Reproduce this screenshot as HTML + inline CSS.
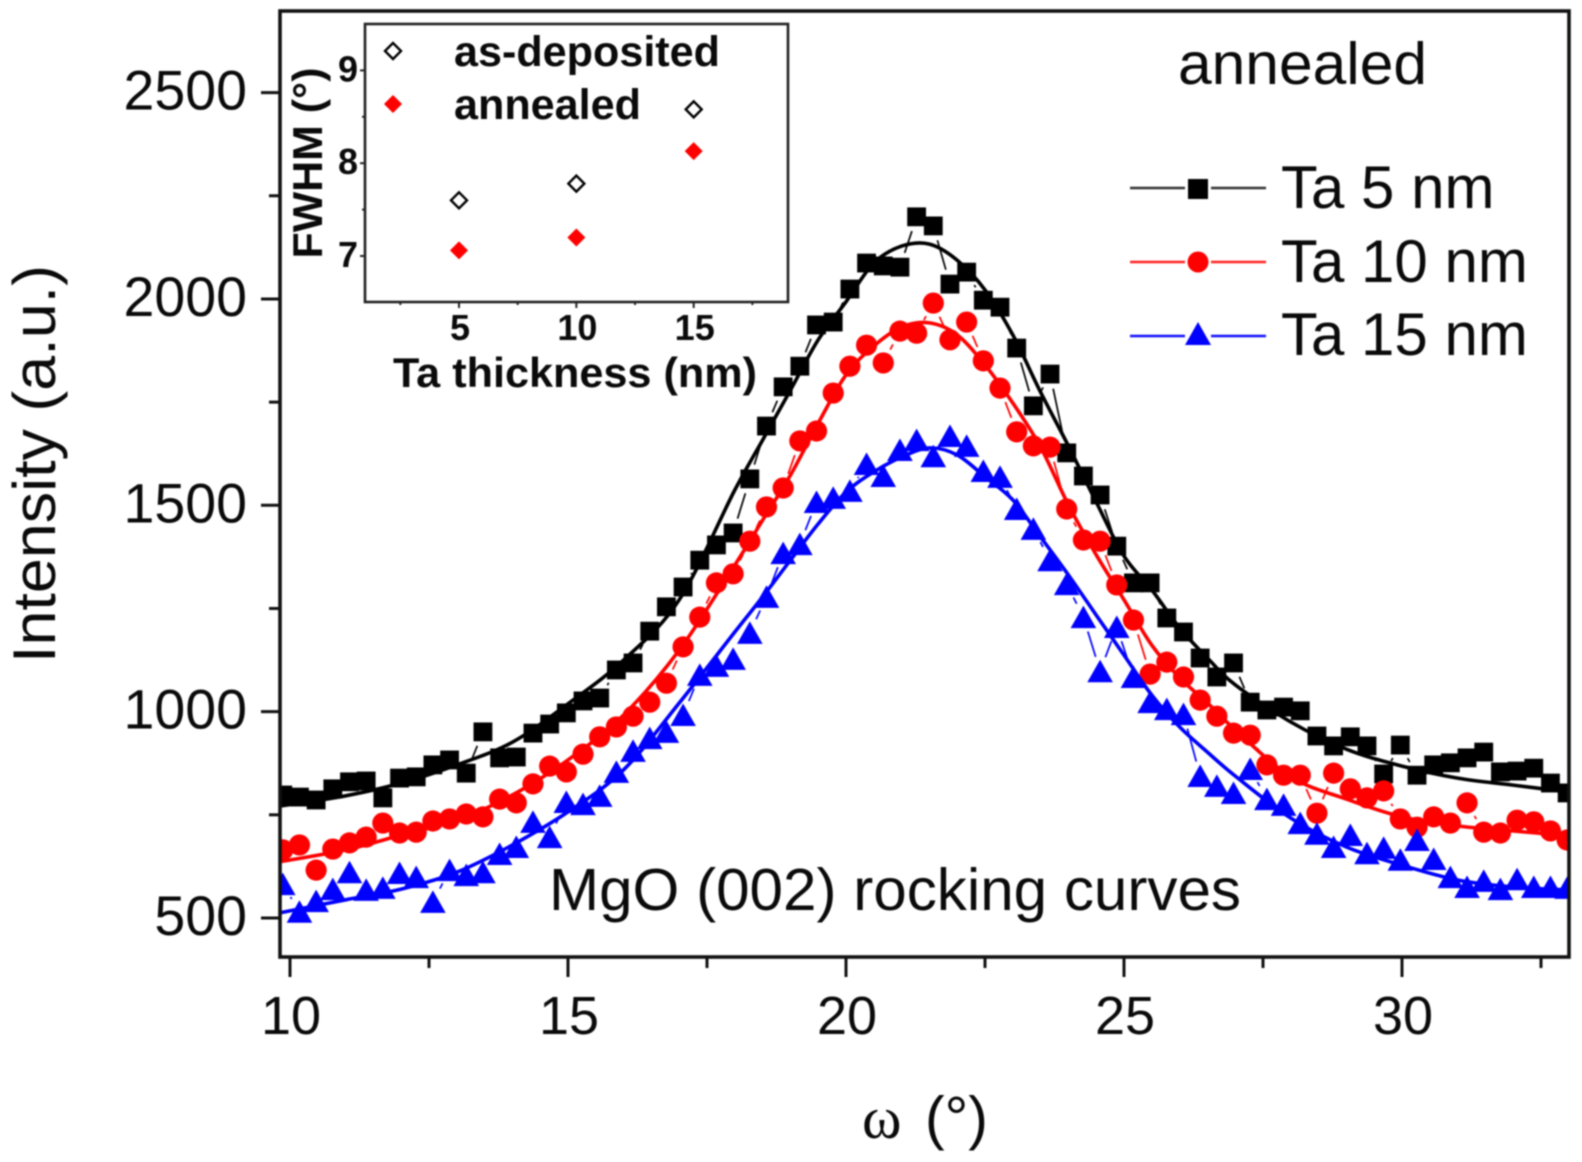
<!DOCTYPE html>
<html lang="en">
<head>
<meta charset="utf-8">
<title>MgO (002) rocking curves</title>
<style>
html,body{margin:0;padding:0;background:#fff;}
svg{display:block;filter:blur(0.8px);}
text{font-family:"Liberation Sans",sans-serif;fill:#0a0a0a;}
.b{font-weight:bold;}
</style>
</head>
<body>
<svg id="chart" xmlns="http://www.w3.org/2000/svg" width="1582" height="1162" viewBox="0 0 1582 1162">
  <defs><clipPath id="plotClip"><rect x="280" y="11" width="1289" height="946"></rect></clipPath></defs>
  <g id="main-marks" clip-path="url(#plotClip)"></g>
  <rect x="280" y="11" width="1289" height="946" fill="none" stroke="#111" stroke-width="3.6"></rect>
  <g id="main-axes"></g>
  <text x="55" y="464" font-size="60" text-anchor="middle" textLength="398" lengthAdjust="spacingAndGlyphs" transform="rotate(-90 55 464)">Intensity (a.u.)</text>
  <text x="862" y="1138" font-size="60" style="font-family:'Liberation Serif',serif">ω</text>
  <text x="925" y="1138" font-size="59">(°)</text>
  <text x="1178" y="84" font-size="59" textLength="249" lengthAdjust="spacingAndGlyphs">annealed</text>
  <text x="549" y="910" font-size="59" textLength="692" lengthAdjust="spacingAndGlyphs">MgO (002) rocking curves</text>

  <g>
    <line x1="1130" y1="188" x2="1185" y2="188" stroke="#333" stroke-width="2.5"></line>
    <line x1="1211" y1="188" x2="1266" y2="188" stroke="#333" stroke-width="2.5"></line>
    <rect x="1188" y="179" width="20" height="20" fill="#000"></rect>
    <text x="1281" y="208" font-size="60">Ta 5 nm</text>
    <line x1="1130" y1="262" x2="1185" y2="262" stroke="#f22" stroke-width="2.5"></line>
    <line x1="1211" y1="262" x2="1266" y2="262" stroke="#f22" stroke-width="2.5"></line>
    <circle cx="1198" cy="262" r="10.5" fill="#f00"></circle>
    <text x="1281" y="282" font-size="60">Ta 10 nm</text>
    <line x1="1130" y1="336" x2="1185" y2="336" stroke="#11f" stroke-width="2.5"></line>
    <line x1="1211" y1="336" x2="1266" y2="336" stroke="#11f" stroke-width="2.5"></line>
    <polygon points="1198,322 1211,345 1185,345" fill="#00f"></polygon>
    <text x="1281" y="355" font-size="60">Ta 15 nm</text>
  </g>

  <g>
    <rect x="365" y="24" width="423" height="278" fill="#fff" stroke="#222" stroke-width="2.6"></rect>
    <g id="inset-axes"></g>
    <g id="inset-marks"></g>
    <polygon points="393,43 401,51 393,59 385,51" fill="#fff" stroke="#000" stroke-width="2.4"></polygon>
    <polygon points="393,95 402,104 393,113 384,104" fill="#f00"></polygon>
    <text x="454" y="66" class="b" font-size="42.5" textLength="266" lengthAdjust="spacingAndGlyphs">as-deposited</text>
    <text x="454" y="119" class="b" font-size="42.5" textLength="187" lengthAdjust="spacingAndGlyphs">annealed</text>
    <text x="393" y="387" class="b" font-size="42" textLength="364" lengthAdjust="spacingAndGlyphs">Ta thickness (nm)</text>
    <text x="322" y="163" class="b" font-size="42" text-anchor="middle" textLength="191" lengthAdjust="spacingAndGlyphs" transform="rotate(-90 322 163)">FWHM (°)</text>
  </g>
</svg>
<script>
// Measured rocking-curve data
const omega = [9.87,10.17,10.47,10.77,11.07,11.37,11.67,11.97,12.27,12.57,12.87,13.17,13.47,13.77,14.07,14.37,14.67,14.97,15.27,15.57,15.87,16.17,16.47,16.77,17.07,17.37,17.67,17.97,18.27,18.57,18.87,19.17,19.47,19.77,20.07,20.37,20.67,20.97,21.27,21.57,21.87,22.17,22.47,22.77,23.07,23.37,23.67,23.97,24.27,24.57,24.87,25.17,25.47,25.77,26.07,26.37,26.67,26.97,27.27,27.57,27.87,28.17,28.47,28.77,29.07,29.37,29.67,29.97,30.27,30.57,30.87,31.17,31.47,31.77,32.07,32.37,32.67,32.97];
const ta5 = [798,793,786,813,830,832,791,839,842,871,883,851,951,888,890,948,970,997,1026,1033,1101,1118,1195,1254,1302,1367,1404,1433,1564,1692,1787,1837,1937,1944,2024,2087,2080,2077,2199,2177,2036,2065,1997,1980,1881,1741,1818,1627,1571,1525,1401,1312,1312,1227,1193,1130,1084,1118,1023,1004,1011,1002,941,917,939,917,849,919,846,871,876,888,902,854,856,863,827,803];
const ta10 = [665,677,616,667,682,696,730,706,708,735,740,752,745,788,779,825,868,854,897,939,963,989,1023,1069,1157,1229,1312,1334,1413,1496,1542,1656,1680,1772,1837,1888,1845,1922,1917,1990,1901,1944,1850,1784,1678,1644,1641,1491,1416,1413,1307,1222,1091,1120,1084,1028,989,948,943,871,846,846,754,851,813,791,808,740,720,745,730,779,708,706,737,733,711,689];
const ta15 = [582,515,541,570,611,568,573,609,599,539,616,604,611,655,672,733,696,781,776,796,854,905,936,951,992,1089,1111,1128,1191,1278,1384,1406,1508,1518,1535,1600,1571,1634,1658,1619,1668,1644,1583,1569,1491,1443,1367,1309,1229,1098,1205,1084,1023,1006,994,844,820,803,861,788,774,730,704,672,701,657,670,641,689,643,599,575,590,570,594,575,575,573];

// Fitted peak curves
const fitOmega = [9.8,11,12,13,14,15,16,17,18,18.5,19,19.5,20,20.5,21,21.5,22,22.5,23,23.5,24,24.5,25,25.5,26,26.5,27,28,29,30,31,32,33];
const fitTa5 = [771,796,827,871,926,1019,1125,1271,1537,1658,1779,1901,1993,2087,2128,2133,2094,2022,1913,1774,1644,1508,1377,1295,1203,1130,1065,975,909,868,839,822,805];
const fitTa10 = [636,665,701,737,798,883,992,1149,1355,1464,1573,1699,1816,1886,1932,1942,1913,1840,1748,1641,1501,1380,1271,1161,1082,1021,956,842,788,745,723,711,699];
const fitTa15 = [512,544,570,611,677,757,859,1021,1193,1278,1367,1455,1532,1581,1617,1639,1622,1569,1513,1423,1331,1234,1137,1040,963,902,844,742,672,628,592,575,568];

// Main axis ticks
const xMajorTicks = [10,15,20,25,30];
const xMinorTicks = [12.5,17.5,22.5,27.5,32.5];
const yMajorTicks = [500,1000,1500,2000,2500];
const yMinorTicks = [750,1250,1750,2250];

// Inset data
const insetThickness = [5,10,15];
const fwhmAsDeposited = [7.60,7.78,8.58];
const fwhmAnnealed = [7.06,7.20,8.13];
const insetXMajor = [5,10,15];
const insetXMinor = [2.5,7.5,12.5,17.5];
const insetYMajor = [7,8,9];
const insetYMinor = [7.5,8.5];

const NS = 'http://www.w3.org/2000/svg';
const xScale = v => 290 + 55.6 * (v - 10);
const yScale = v => 918 - 0.4127 * (v - 500);
const insetX = v => 459 + 23.47 * (v - 5);
const insetY = v => 256 - 92.8 * (v - 7);

function mk(parent, tag, attrs, txt) {
  const el = document.createElementNS(NS, tag);
  for (const k in attrs) el.setAttribute(k, attrs[k]);
  if (txt !== undefined) el.textContent = txt;
  parent.appendChild(el);
  return el;
}
function smoothPath(xs, ys) {
  const p = xs.map((x, i) => [xScale(x), yScale(ys[i])]);
  let d = 'M' + p[0][0].toFixed(1) + ' ' + p[0][1].toFixed(1);
  for (let i = 0; i < p.length - 1; i++) {
    const a = p[Math.max(i - 1, 0)], b = p[i], c = p[i + 1], e = p[Math.min(i + 2, p.length - 1)];
    d += 'C' + (b[0] + (c[0] - a[0]) / 6).toFixed(1) + ' ' + (b[1] + (c[1] - a[1]) / 6).toFixed(1) + ' ' +
         (c[0] - (e[0] - b[0]) / 6).toFixed(1) + ' ' + (c[1] - (e[1] - b[1]) / 6).toFixed(1) + ' ' +
         c[0].toFixed(1) + ' ' + c[1].toFixed(1);
  }
  return d;
}

const marks = document.getElementById('main-marks');
const axes = document.getElementById('main-axes');

function drawSeries(key, values, fit, color, shape) {
  const group = mk(marks, 'g', {});
  
  
  for (let i = 0; i < values.length - 1; i++) {
    const x1 = xScale(omega[i]), y1 = yScale(values[i]), x2 = xScale(omega[i + 1]), y2 = yScale(values[i + 1]);
    const len = Math.hypot(x2 - x1, y2 - y1);
    const gap = 15;
    if (len <= gap * 2 + 1) continue;
    const ux = (x2 - x1) / len, uy = (y2 - y1) / len;
    const seg = mk(group, 'line', {x1: x1 + ux * gap, y1: y1 + uy * gap, x2: x2 - ux * gap, y2: y2 - uy * gap, stroke: color, 'stroke-width': 1.7});
    
    
  }
  const curve = mk(group, 'path', {d: smoothPath(fitOmega, fit), fill: 'none', stroke: color, 'stroke-width': 3.6});
  
  
  values.forEach((v, i) => {
    const cx = xScale(omega[i]), cy = yScale(v);
    let m;
    if (shape === 'square') {
      m = mk(group, 'rect', {x: cx - 9.4, y: cy - 9.4, width: 18.8, height: 18.8, fill: color});
    } else if (shape === 'circle') {
      m = mk(group, 'circle', {cx: cx, cy: cy, r: 10.6, fill: color});
    } else {
      m = mk(group, 'polygon', {points: cx + ',' + (cy - 11.5) + ' ' + (cx + 12.8) + ',' + (cy + 11) + ' ' + (cx - 12.8) + ',' + (cy + 11), fill: color});
    }
    
    
  });
}
drawSeries('ta-5-nm', ta5, fitTa5, '#000', 'square');
drawSeries('ta-10-nm', ta10, fitTa10, '#f00', 'circle');
drawSeries('ta-15-nm', ta15, fitTa15, '#00f', 'triangle');

xMajorTicks.forEach(t => {
  const l = mk(axes, 'line', {x1: xScale(t), x2: xScale(t), y1: 957, y2: 977, stroke: '#111', 'stroke-width': 3});
  
  
  const s = mk(axes, 'text', {x: xScale(t) + 1, y: 1034, 'font-size': 54, 'text-anchor': 'middle'}, String(t));
  
  
});
xMinorTicks.forEach(t => {
  const l = mk(axes, 'line', {x1: xScale(t), x2: xScale(t), y1: 957, y2: 968, stroke: '#111', 'stroke-width': 3});
  
  
});
yMajorTicks.forEach(t => {
  const l = mk(axes, 'line', {x1: 261, x2: 280, y1: yScale(t), y2: yScale(t), stroke: '#111', 'stroke-width': 3});
  
  
  const s = mk(axes, 'text', {x: 247, y: yScale(t) + 17, 'font-size': 55.5, 'text-anchor': 'end'}, String(t));
  
  
});
yMinorTicks.forEach(t => {
  const l = mk(axes, 'line', {x1: 269, x2: 280, y1: yScale(t), y2: yScale(t), stroke: '#111', 'stroke-width': 3});
  
  
});

// Inset
const iAxes = document.getElementById('inset-axes');
const iMarks = document.getElementById('inset-marks');
insetXMajor.forEach(t => {
  const l = mk(iAxes, 'line', {x1: insetX(t), x2: insetX(t), y1: 302, y2: 308, stroke: '#222', 'stroke-width': 2});
  
  
  const s = mk(iAxes, 'text', {x: insetX(t) + 1, y: 340, 'font-size': 36, 'text-anchor': 'middle', class: 'b'}, String(t));
  
  
});
insetXMinor.forEach(t => {
  const l = mk(iAxes, 'line', {x1: insetX(t), x2: insetX(t), y1: 302, y2: 305, stroke: '#222', 'stroke-width': 2});
  
  
});
insetYMajor.forEach(t => {
  const l = mk(iAxes, 'line', {x1: 360, x2: 365, y1: insetY(t), y2: insetY(t), stroke: '#222', 'stroke-width': 2});
  
  
  const s = mk(iAxes, 'text', {x: 358, y: insetY(t) + 11, 'font-size': 36, 'text-anchor': 'end', class: 'b'}, String(t));
  
  
});
insetYMinor.forEach(t => {
  const l = mk(iAxes, 'line', {x1: 362, x2: 365, y1: insetY(t), y2: insetY(t), stroke: '#222', 'stroke-width': 2});
  
  
});
insetThickness.forEach((t, i) => {
  const cx = insetX(t);
  const cy1 = insetY(fwhmAsDeposited[i]);
  const open = mk(iMarks, 'polygon', {points: cx + ',' + (cy1 - 8) + ' ' + (cx + 8) + ',' + cy1 + ' ' + cx + ',' + (cy1 + 8) + ' ' + (cx - 8) + ',' + cy1, fill: '#fff', stroke: '#000', 'stroke-width': 2.4});
  
  
  const cy2 = insetY(fwhmAnnealed[i]);
  const solid = mk(iMarks, 'polygon', {points: cx + ',' + (cy2 - 9) + ' ' + (cx + 9) + ',' + cy2 + ' ' + cx + ',' + (cy2 + 9) + ' ' + (cx - 9) + ',' + cy2, fill: '#f00'});
  
  
});
</script>
</body>
</html>
